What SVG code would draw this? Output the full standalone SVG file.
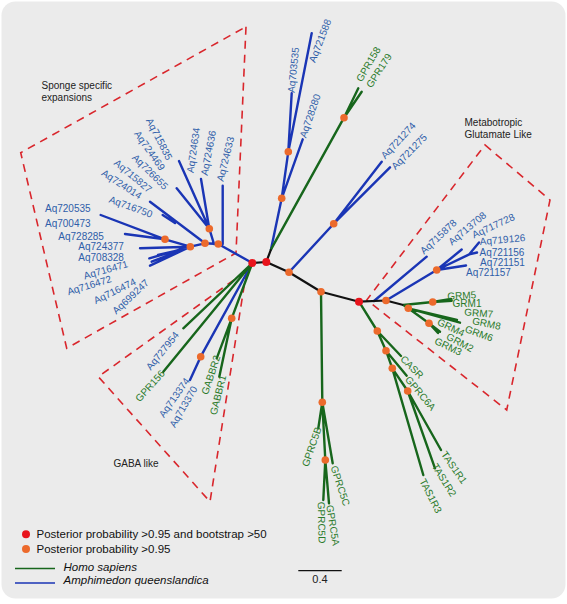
<svg xmlns="http://www.w3.org/2000/svg" width="567" height="604" viewBox="0 0 567 604">
<style>
text{font-family:"Liberation Sans",Arial,sans-serif;font-size:10px}
.tb{fill:#2f5ea9}
.tg{fill:#2a7a2a}
.tk{fill:#222}
.c{text-anchor:middle}
.bl{stroke:#1a35b5;stroke-width:2.4;fill:none;stroke-linecap:round;stroke-linejoin:round}
.gr{stroke:#17661c;stroke-width:2.4;fill:none;stroke-linecap:round;stroke-linejoin:round}
.bk{stroke:#111;stroke-width:2.2;fill:none;stroke-linejoin:round}
.dash{stroke:#d9262c;stroke-width:1.6;fill:none;stroke-dasharray:8 6}
.r{fill:#e8141c}
.o{fill:#ec6a2c}
.lg{font-size:11.5px;fill:#111}
</style>
<rect x="1.5" y="1.5" width="564" height="597" rx="14" fill="#ebebeb"/>

<g id="regions">
<polygon class="dash" points="246,26.7 236,253 66.7,348.3 20.7,152.7"/>
<polygon class="dash" points="246.5,271 210,501.7 98.3,376.7"/>
<polygon class="dash" points="485,145 550,200 506.7,410 366.7,300"/>
</g>

<g id="connectors">
<path class="bl" d="M252.3,263 L218.3,244 L205,243.3 L190.3,246.7 L165,239.3 M222.7,244 L222.7,185.7 M214,244 L209.3,228.7 L179,161 M209.3,228.7 L176.7,188.3 M209.3,228.7 L201,179 M205,243.3 L150,201.7 M162.7,215 L175,223 M165,239.3 L100.7,215 M165,239.3 L125,234 M190.3,246.7 L140,248.3 M190.3,246.7 L149.3,258.3 M190.3,246.7 L151.7,261.7 M190.3,246.7 L150,265.7 M180,250 L158,255"/>
<path class="bl" d="M271,249.3 L281.7,198.3 L288.3,151.7 L311.7,33.3 M288.3,151.7 L291.7,93.3 M281.7,198.3 L302.7,139.3 M289,272.3 L333.7,223.7 L381.7,161.7 M333.7,223.7 L390,167.3"/>
<path class="bl" d="M374,301 L426.7,256.7 M386,300.5 L436.7,270 L461.7,249.5 M436.7,270 L469.3,254.3 L479,242.5 M469.3,254.3 L477,252.5 M436.7,270 L466,265.5"/>
<path class="bl" d="M252.3,263 L200.7,356.7 L190,380"/>
<path class="gr" d="M271,249.3 L344,117.7 L358.3,88.3 M344,117.7 L361.7,91.7"/>
<path class="gr" d="M321,291.7 L322.3,402.3 L318.3,428.3 M322.3,402.3 L332.7,463.3 M322.3,402.3 L325.3,460 L323.3,500 M325.3,460 L329,503.3"/>
<path class="gr" d="M359,301.7 L377.3,331 L386,350.7 L392.3,368.3 L407.7,391 L441,450 M407.7,391 L435,468.3 M392.3,368.3 L423.3,475 M377.3,331 L401,356 M386,350.7 L406.7,375.7"/>
<path class="gr" d="M403.3,305 L432.7,302 L451.7,300.7 M432.7,302 L451,299 M403.3,305 L408.3,308.3 L460,322.7 M408.3,308.3 L457,320 M408.3,308.3 L429,323.3 L440,331.7 M429,323.3 L438,333"/>
<path class="gr" d="M252.3,263 L183.3,328.3 M252.3,263 L163.3,371.7 M252.3,263 L231.7,318.3 L216.7,358.3 M231.7,318.3 L219.3,376.7"/>
<path class="bk" d="M252.3,263 L266.3,262 L289,272.3 L321,291.7 L359,301.7 L386,300.5 L403.3,305 M266.3,262 L271,249.3"/>
</g>

<g id="internal-nodes">
<circle class="r" cx="252.3" cy="263" r="4"/>
<circle class="r" cx="266.3" cy="262" r="4"/>
<circle class="r" cx="359" cy="301.7" r="4"/>
<circle class="o" cx="289" cy="272.3" r="3.8"/>
<circle class="o" cx="321" cy="291.7" r="3.8"/>
<circle class="o" cx="333.7" cy="223.7" r="3.8"/>
<circle class="o" cx="344" cy="117.7" r="3.8"/>
<circle class="o" cx="288.3" cy="151.7" r="3.8"/>
<circle class="o" cx="281.7" cy="198.3" r="3.8"/>
<circle class="o" cx="209.3" cy="228.7" r="3.8"/>
<circle class="o" cx="205" cy="243.3" r="3.8"/>
<circle class="o" cx="218.3" cy="244" r="3.8"/>
<circle class="o" cx="190.3" cy="246.7" r="3.8"/>
<circle class="o" cx="165" cy="239.3" r="3.8"/>
<circle class="o" cx="231.7" cy="318.3" r="3.8"/>
<circle class="o" cx="200.7" cy="356.7" r="3.8"/>
<circle class="o" cx="322.3" cy="402.3" r="3.8"/>
<circle class="o" cx="325.3" cy="460" r="3.8"/>
<circle class="o" cx="377.3" cy="331" r="3.8"/>
<circle class="o" cx="386" cy="350.7" r="3.8"/>
<circle class="o" cx="392.3" cy="368.3" r="3.8"/>
<circle class="o" cx="407.7" cy="391" r="3.8"/>
<circle class="o" cx="386" cy="300.5" r="3.8"/>
<circle class="o" cx="436.7" cy="270" r="3.8"/>
<circle class="o" cx="432.7" cy="302" r="3.8"/>
<circle class="o" cx="408.3" cy="308.3" r="3.8"/>
<circle class="o" cx="429" cy="323.3" r="3.8"/>
</g>

<g id="group-labels">
<text class="tk" x="41.5" y="88.5">Sponge specific</text>
<text class="tk" x="41.5" y="100.5">expansions</text>
<text class="tk" x="464.5" y="126">Metabotropic</text>
<text class="tk" x="464.5" y="138">Glutamate Like</text>
<text class="tk" x="113.5" y="467">GABA like</text>
</g>

<g id="sponge-tips">
<g id="n-Aq720535"><text class="tb" x="45" y="211.7">Aq720535</text></g>
<g id="n-Aq700473"><text class="tb" x="45" y="226.5">Aq700473</text></g>
<g id="n-Aq728285"><text class="tb" x="58.3" y="239.8">Aq728285</text></g>
<g id="n-Aq724377"><text class="tb" x="78.3" y="250.2">Aq724377</text></g>
<g id="n-Aq708328"><text class="tb" x="78.3" y="261">Aq708328</text></g>
<g id="n-Aq716471"><text class="tb c" dy="0.35em" transform="translate(105.8,269.8) rotate(-16)">Aq716471</text></g>
<g id="n-Aq716472"><text class="tb c" dy="0.35em" transform="translate(89.2,285.3) rotate(-17)">Aq716472</text></g>
<g id="n-Aq716474"><text class="tb c" dy="0.35em" transform="translate(114.7,291) rotate(-26)">Aq716474</text></g>
<g id="n-Aq699247"><text class="tb c" dy="0.35em" transform="translate(130.5,296.7) rotate(-43)">Aq699247</text></g>
<g id="n-Aq716750"><text class="tb c" dy="0.35em" transform="translate(130.8,206.7) rotate(20)">Aq716750</text></g>
<g id="n-Aq724014"><text class="tb c" dy="0.35em" transform="translate(121.7,184.2) rotate(33)">Aq724014</text></g>
<g id="n-Aq715827"><text class="tb c" dy="0.35em" transform="translate(133,176) rotate(40)">Aq715827</text></g>
<g id="n-Aq726655"><text class="tb c" dy="0.35em" transform="translate(150.2,171.8) rotate(45)">Aq726655</text></g>
<g id="n-Aq724469"><text class="tb c" dy="0.35em" transform="translate(149.7,150.5) rotate(55)">Aq724469</text></g>
<g id="n-Aq715835"><text class="tb c" dy="0.35em" transform="translate(159.3,139) rotate(63)">Aq715835</text></g>
<g id="n-Aq724634"><text class="tb c" dy="0.35em" transform="translate(193.3,150.3) rotate(-82)">Aq724634</text></g>
<g id="n-Aq724636"><text class="tb c" dy="0.35em" transform="translate(208.3,153) rotate(-79)">Aq724636</text></g>
<g id="n-Aq724633"><text class="tb c" dy="0.35em" transform="translate(225.4,159) rotate(-76)">Aq724633</text></g>
</g>

<g id="upper-tips">
<g id="n-Aq703535"><text class="tb c" dy="0.35em" transform="translate(293.3,70) rotate(-84)">Aq703535</text></g>
<g id="n-Aq721588"><text class="tb c" dy="0.35em" transform="translate(320,40.8) rotate(-69)">Aq721588</text></g>
<g id="n-Aq728280"><text class="tb c" dy="0.35em" transform="translate(310,115.8) rotate(-71)">Aq728280</text></g>
<g id="n-GPR158"><text class="tg c" dy="0.35em" transform="translate(368.3,64.2) rotate(-60)">GPR158</text></g>
<g id="n-GPR179"><text class="tg c" dy="0.35em" transform="translate(379,70.5) rotate(-57)">GPR179</text></g>
<g id="n-Aq721274"><text class="tb c" dy="0.35em" transform="translate(398.3,140.5) rotate(-47)">Aq721274</text></g>
<g id="n-Aq721275"><text class="tb c" dy="0.35em" transform="translate(409.2,151.7) rotate(-45)">Aq721275</text></g>
</g>

<g id="metabotropic-tips">
<g id="n-Aq715878"><text class="tb c" dy="0.35em" transform="translate(438.3,236.7) rotate(-43)">Aq715878</text></g>
<g id="n-Aq713708"><text class="tb c" dy="0.35em" transform="translate(467.2,228.3) rotate(-40)">Aq713708</text></g>
<g id="n-Aq717728"><text class="tb c" dy="0.35em" transform="translate(493.3,225.8) rotate(-25)">Aq717728</text></g>
<g id="n-Aq719126"><text class="tb c" dy="0.35em" transform="translate(502.5,239.5) rotate(-5)">Aq719126</text></g>
<g id="n-Aq721156"><text class="tb" x="479.5" y="255.5">Aq721156</text></g>
<g id="n-Aq721151"><text class="tb" x="480" y="266.3">Aq721151</text></g>
<g id="n-Aq721157"><text class="tb" x="466" y="276.3">Aq721157</text></g>
<g id="n-GRM5"><text class="tg c" dy="0.35em" transform="translate(461.7,295.5) rotate(-3)">GRM5</text></g>
<g id="n-GRM1"><text class="tg c" dy="0.35em" transform="translate(467,303.3)">GRM1</text></g>
<g id="n-GRM7"><text class="tg c" dy="0.35em" transform="translate(478.7,313) rotate(5)">GRM7</text></g>
<g id="n-GRM8"><text class="tg c" dy="0.35em" transform="translate(486.5,323.5) rotate(12)">GRM8</text></g>
<g id="n-GRM4"><text class="tg c" dy="0.35em" transform="translate(451,327.5) rotate(25)">GRM4</text></g>
<g id="n-GRM6"><text class="tg c" dy="0.35em" transform="translate(479,333.5) rotate(20)">GRM6</text></g>
<g id="n-GRM2"><text class="tg c" dy="0.35em" transform="translate(460,342.5) rotate(28)">GRM2</text></g>
<g id="n-GRM3"><text class="tg c" dy="0.35em" transform="translate(448.3,346.5) rotate(25)">GRM3</text></g>
</g>

<g id="lower-tips">
<g id="n-CASR"><text class="tg c" dy="0.35em" transform="translate(412,367) rotate(45)">CASR</text></g>
<g id="n-GPRC6A"><text class="tg c" dy="0.35em" transform="translate(420.5,393.3) rotate(50)">GPRC6A</text></g>
<g id="n-TAS1R1"><text class="tg c" dy="0.35em" transform="translate(454.2,467.5) rotate(55)">TAS1R1</text></g>
<g id="n-TAS1R2"><text class="tg c" dy="0.35em" transform="translate(444.2,480) rotate(58)">TAS1R2</text></g>
<g id="n-TAS1R3"><text class="tg c" dy="0.35em" transform="translate(430.8,495.8) rotate(63)">TAS1R3</text></g>
<g id="n-GPRC5B"><text class="tg c" dy="0.35em" transform="translate(311.7,446.7) rotate(-71)">GPRC5B</text></g>
<g id="n-GPRC5C"><text class="tg c" dy="0.35em" transform="translate(340.3,485.8) rotate(72)">GPRC5C</text></g>
<g id="n-GPRC5D"><text class="tg c" dy="0.35em" transform="translate(321.7,522.5) rotate(89)">GPRC5D</text></g>
<g id="n-GPRC5A"><text class="tg c" dy="0.35em" transform="translate(333,525.3) rotate(81)">GPRC5A</text></g>
</g>

<g id="gaba-tips">
<g id="n-Aq727954"><text class="tb c" dy="0.35em" transform="translate(162.5,350.8) rotate(-51)">Aq727954</text></g>
<g id="n-GPR156"><text class="tg c" dy="0.35em" transform="translate(150,385.8) rotate(-48)">GPR156</text></g>
<g id="n-Aq713374"><text class="tb c" dy="0.35em" transform="translate(174.2,397.5) rotate(-55)">Aq713374</text></g>
<g id="n-Aq713370"><text class="tb c" dy="0.35em" transform="translate(183.3,406.7) rotate(-60)">Aq713370</text></g>
<g id="n-GABBR2"><text class="tg c" dy="0.35em" transform="translate(210.8,375) rotate(-72)">GABBR2</text></g>
<g id="n-GABBR1"><text class="tg c" dy="0.35em" transform="translate(218,395) rotate(-76)">GABBR1</text></g>
</g>

<g id="legend">
<circle class="r" cx="26" cy="534.3" r="4"/>
<text class="lg" x="36.5" y="538.3">Posterior probability &gt;0.95 and bootstrap &gt;50</text>
<circle class="o" cx="26" cy="549" r="4"/>
<text class="lg" x="36.5" y="552.8">Posterior probability &gt;0.95</text>
<line x1="15" y1="568.5" x2="55" y2="568.5" stroke="#17661c" stroke-width="1.5"/>
<text class="lg" x="63.5" y="571" font-style="italic">Homo sapiens</text>
<line x1="15" y1="583" x2="55" y2="583" stroke="#1a35b5" stroke-width="1.5"/>
<text class="lg" x="63.5" y="584" font-style="italic">Amphimedon queenslandica</text>
</g>

<g id="scale-bar">
<line x1="298.3" y1="570.7" x2="341.7" y2="570.7" stroke="#111" stroke-width="1.2"/>
<text class="tk c" x="320" y="582.7" style="font-size:11px">0.4</text>
</g>
</svg>
